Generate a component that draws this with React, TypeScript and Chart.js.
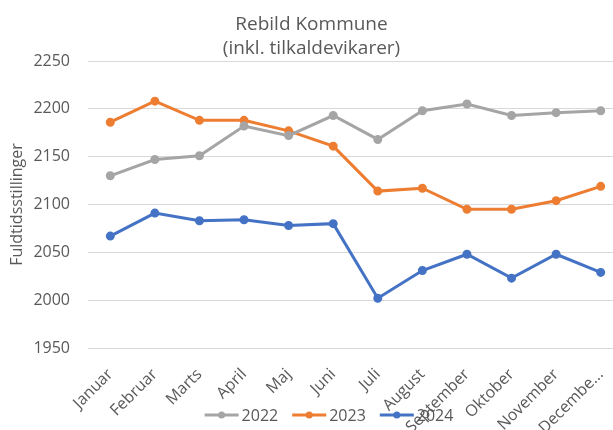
import React, { useEffect, useRef } from "react";
import { Chart, registerables } from "chart.js";

Chart.register(...registerables);

const months = ["Januar", "Februar", "Marts", "April", "Maj", "Juni", "Juli", "August", "September", "Oktober", "November", "December"];
const tickLabels = ["Januar", "Februar", "Marts", "April", "Maj", "Juni", "Juli", "August", "September", "Oktober", "November", "Decembe..."];
const values2022 = [2130, 2147, 2151, 2182, 2172, 2193, 2168, 2198, 2205, 2193, 2196, 2198];
const values2023 = [2186, 2208, 2188, 2188, 2177, 2161, 2114, 2117, 2095, 2095, 2104, 2119];
const values2024 = [2067, 2091, 2083, 2084, 2078, 2080, 2002, 2031, 2048, 2023, 2048, 2029];
const seriesNames = ["2022", "2023", "2024"];
const titleLines = ["Rebild Kommune", "(inkl. tilkaldevikarer)"];
const yTitle = "Fuldtidsstillinger";

const FONT = "'Open Sans', sans-serif";
const TEXT = "#595959";

const legendPlugin = {
  id: "customLegend",
  afterDraw(chart: any) {
    const ctx = chart.ctx;
    const ds = chart.data.datasets;
    ctx.save();
    ctx.font = `16px ${FONT}`;
    const lineLen = 34;
    const gap = 3;
    const itemGap = 14;
    const widths = ds.map((d: any) => lineLen + gap + ctx.measureText(d.label).width);
    const total = widths.reduce((a: number, b: number) => a + b, 0) + itemGap * (ds.length - 1);
    let x = chart.width / 2 - total / 2;
    const y = chart.height - 15;
    ds.forEach((d: any, i: number) => {
      ctx.strokeStyle = d.borderColor;
      ctx.lineWidth = 3;
      ctx.beginPath();
      ctx.moveTo(x, y);
      ctx.lineTo(x + lineLen, y);
      ctx.stroke();
      ctx.fillStyle = d.borderColor;
      ctx.beginPath();
      ctx.arc(x + lineLen / 2, y, 3.5, 0, Math.PI * 2);
      ctx.fill();
      ctx.fillStyle = TEXT;
      ctx.textBaseline = "middle";
      ctx.textAlign = "left";
      ctx.fillText(d.label, x + lineLen + gap, y + 1);
      x += widths[i] + itemGap;
    });
    ctx.restore();
  },
};

export default function App() {
  const ref = useRef<HTMLCanvasElement | null>(null);
  useEffect(() => {
    if (!ref.current) return;
    const mk = (label: string, data: number[], color: string) => ({
      label,
      data,
      borderColor: color,
      backgroundColor: color,
      borderWidth: 3,
      pointRadius: 3,
      pointHoverRadius: 3,
      pointBackgroundColor: color,
      pointBorderColor: color,
      tension: 0,
    });
    const chart = new Chart(ref.current, {
      type: "line",
      data: {
        labels: months,
        datasets: [
          mk(seriesNames[0], values2022, "#A5A5A5"),
          mk(seriesNames[1], values2023, "#ED7D31"),
          mk(seriesNames[2], values2024, "#4472C4"),
        ],
      },
      plugins: [legendPlugin],
      options: {
        responsive: false,
        animation: false,
        layout: { padding: { left: 0, right: 35, top: 0, bottom: 0 } },
        plugins: {
          legend: { display: false },
          tooltip: { enabled: false },
          title: {
            display: true,
            text: titleLines,
            color: TEXT,
            font: { family: FONT, size: 19, weight: "normal", lineHeight: "24px" },
            padding: { top: 13, bottom: 0 },
          },
        },
        scales: {
          x: {
            offset: true,
            grid: { display: false },
            border: { display: false },
            ticks: {
              color: TEXT,
              font: { family: FONT, size: 16 },
              minRotation: 45,
              maxRotation: 45,
              autoSkip: false,
              padding: 9,
              callback: (_v: any, i: number) => tickLabels[i],
            },
            afterFit: (s: any) => {
              s.height = 82;
            },
          },
          y: {
            min: 1950,
            max: 2250,
            grid: { color: "#D9D9D9", lineWidth: 1, drawTicks: false },
            border: { display: false },
            ticks: {
              stepSize: 50,
              color: TEXT,
              font: { family: FONT, size: 16 },
              padding: 18,
              callback: (v: any) => String(v),
            },
            title: {
              display: true,
              text: yTitle,
              color: TEXT,
              font: { family: FONT, size: 16 },
              padding: { top: 8, bottom: 0 },
            },
            afterFit: (s: any) => {
              s.width = 88;
            },
          },
        },
      },
    });
    return () => chart.destroy();
  }, []);
  return (
    <div style={{ position: "fixed", left: 0, top: 0, width: 613, height: 430, overflow: "hidden", background: "#fff" }}>
      <canvas ref={ref} width={658} height={430} style={{ display: "block" }} />
    </div>
  );
}
